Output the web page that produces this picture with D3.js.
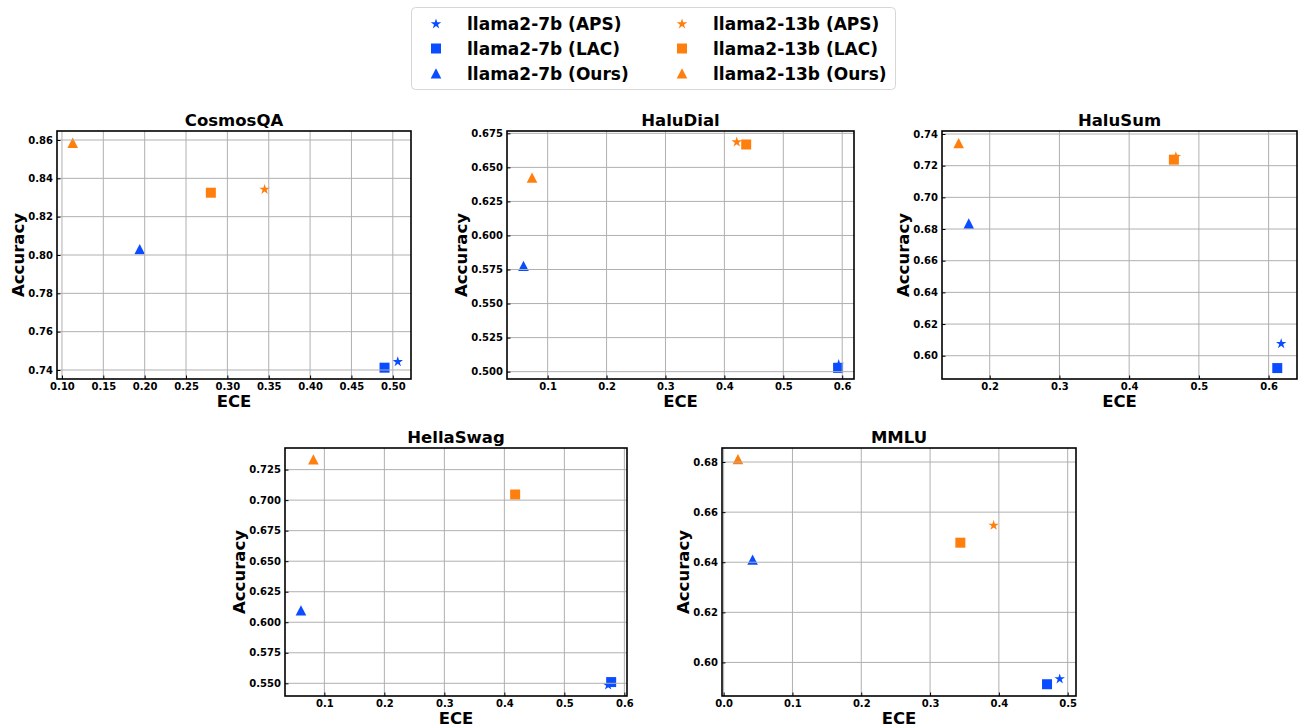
<!DOCTYPE html>
<html>
<head>
<meta charset="utf-8">
<script src="https://cdn.jsdelivr.net/npm/d3@7"></script>
<style>
  body { margin: 0; background: #fff; }
  svg { font-family: "DejaVu Sans", sans-serif; }
</style>
</head>
<body>
<svg id="chart" width="1299" height="728"></svg>
<script>
// series order: 7b APS, 7b LAC, 7b Ours, 13b APS, 13b LAC, 13b Ours
var seriesNames = ["llama2-7b (APS)", "llama2-7b (LAC)", "llama2-7b (Ours)",
                   "llama2-13b (APS)", "llama2-13b (LAC)", "llama2-13b (Ours)"];
var seriesShape = ["star", "square", "triangle", "star", "square", "triangle"];
var seriesColor = ["#0a4cff", "#0a4cff", "#0a4cff", "#ff7f0e", "#ff7f0e", "#ff7f0e"];

var datasets = ["CosmosQA", "HaluDial", "HaluSum", "HellaSwag", "MMLU"];

var cosmosECE = [0.506, 0.490, 0.194, 0.345, 0.280, 0.113];
var cosmosAcc = [0.7443, 0.7412, 0.8030, 0.8342, 0.8325, 0.8585];
var dialECE   = [0.594, 0.593, 0.059, 0.421, 0.437, 0.0735];
var dialAcc   = [0.5052, 0.5027, 0.5775, 0.6686, 0.6668, 0.6424];
var sumECE    = [0.618, 0.6124, 0.170, 0.467, 0.4641, 0.1555];
var sumAcc    = [0.6076, 0.5922, 0.6834, 0.7257, 0.7238, 0.7341];
var hellaECE  = [0.573, 0.578, 0.061, 0.418, 0.418, 0.0817];
var hellaAcc  = [0.5485, 0.5510, 0.6096, 0.7046, 0.7046, 0.7332];
var mmluECE   = [0.4884, 0.470, 0.0421, 0.3924, 0.344, 0.0208];
var mmluAcc   = [0.5934, 0.5913, 0.6410, 0.6547, 0.6478, 0.6811];

var xLimits = [[0.094, 0.522], [0.031, 0.620], [0.1316, 0.6407], [0.0344, 0.6044], [-0.0024, 0.5121]];
var yLimits = [[0.7353, 0.8647], [0.4946, 0.6767], [0.5853, 0.7419], [0.5396, 0.7427], [0.5866, 0.6856]];
var xTicks = [[0.10, 0.15, 0.20, 0.25, 0.30, 0.35, 0.40, 0.45, 0.50],
              [0.1, 0.2, 0.3, 0.4, 0.5, 0.6],
              [0.2, 0.3, 0.4, 0.5, 0.6],
              [0.1, 0.2, 0.3, 0.4, 0.5, 0.6],
              [0.0, 0.1, 0.2, 0.3, 0.4, 0.5]];
var yTicks = [[0.74, 0.76, 0.78, 0.80, 0.82, 0.84, 0.86],
              [0.500, 0.525, 0.550, 0.575, 0.600, 0.625, 0.650, 0.675],
              [0.60, 0.62, 0.64, 0.66, 0.68, 0.70, 0.72, 0.74],
              [0.550, 0.575, 0.600, 0.625, 0.650, 0.675, 0.700, 0.725],
              [0.60, 0.62, 0.64, 0.66, 0.68]];
var xFormat = [".2f", ".1f", ".1f", ".1f", ".1f"];
var yFormat = [".2f", ".3f", ".2f", ".3f", ".2f"];

var eceData = [cosmosECE, dialECE, sumECE, hellaECE, mmluECE];
var accData = [cosmosAcc, dialAcc, sumAcc, hellaAcc, mmluAcc];

// panel boxes in pixels: left, top, right, bottom
var panels = [
  {l: 57, t: 131, r: 411, b: 379},
  {l: 507, t: 131, r: 854, b: 379},
  {l: 942, t: 131, r: 1297, b: 379},
  {l: 285, t: 448, r: 627, b: 696},
  {l: 722, t: 448, r: 1076, b: 696}
];

var svg = d3.select("#chart");

function markerPath(shape) {
  if (shape == "square") {
    return "M-5,-5L5,-5L5,5L-5,5Z";
  } else if (shape == "triangle") {
    return "M0,-5.3L5.3,5L-5.3,5Z";
  } else {
    var R = 5.5, r = R * 0.382, p = [];
    for (var k = 0; k < 10; k++) {
      var rad = (k % 2 == 0) ? R : r;
      var a = -Math.PI / 2 + k * Math.PI / 5;
      p.push([rad * Math.cos(a), rad * Math.sin(a)]);
    }
    return "M" + p.map(function(q){ return q[0].toFixed(2) + "," + q[1].toFixed(2); }).join("L") + "Z";
  }
}

datasets.forEach(function(name, i) {
  var box = panels[i];
  var x = d3.scaleLinear().domain(xLimits[i]).range([box.l, box.r]);
  var y = d3.scaleLinear().domain(yLimits[i]).range([box.b, box.t]);
  var g = svg.append("g");

  var pts = seriesNames.map(function(s, j) {
    return {ece: eceData[i][j], acc: accData[i][j], shape: seriesShape[j], color: seriesColor[j]};
  });

  // markers (drawn under the grid, like matplotlib scatter)
  g.append("g").selectAll("path")
    .data(pts)
    .enter()
    .append("path")
    .attr("d", function(d){ return markerPath(d.shape); })
    .attr("transform", function(d){ return "translate(" + x(d.ece) + "," + y(d.acc) + ")"; })
    .attr("fill", function(d){ return d.color; });

  // grid
  g.append("g").selectAll("line.gx")
    .data(xTicks[i])
    .enter()
    .append("line")
    .attr("x1", function(d){ return x(d); }).attr("x2", function(d){ return x(d); })
    .attr("y1", box.t).attr("y2", box.b)
    .attr("stroke", "#b0b0b0").attr("stroke-width", 1);
  g.append("g").selectAll("line.gy")
    .data(yTicks[i])
    .enter()
    .append("line")
    .attr("y1", function(d){ return y(d); }).attr("y2", function(d){ return y(d); })
    .attr("x1", box.l).attr("x2", box.r)
    .attr("stroke", "#b0b0b0").attr("stroke-width", 1);

  // axes with inward ticks
  var xAxis = d3.axisBottom(x).tickValues(xTicks[i]).tickFormat(d3.format(xFormat[i]))
    .tickSizeInner(-3.5).tickSizeOuter(0).tickPadding(4);
  var yAxis = d3.axisLeft(y).tickValues(yTicks[i]).tickFormat(d3.format(yFormat[i]))
    .tickSizeInner(-3.5).tickSizeOuter(0).tickPadding(4);

  var gx = g.append("g").attr("transform", "translate(0," + box.b + ")").call(xAxis);
  var gy = g.append("g").attr("transform", "translate(" + box.l + ",0)").call(yAxis);
  [gx, gy].forEach(function(a) {
    a.select(".domain").remove();
    a.selectAll("text").attr("font-size", 10).attr("font-weight", "bold").attr("fill", "#000")
      .attr("font-family", "DejaVu Sans");
    a.selectAll("line").attr("stroke", "#000");
  });

  // frame
  g.append("rect")
    .attr("x", box.l).attr("y", box.t)
    .attr("width", box.r - box.l).attr("height", box.b - box.t)
    .attr("fill", "none").attr("stroke", "#000").attr("stroke-width", 1.6);

  // title and labels
  g.append("text")
    .attr("x", (box.l + box.r) / 2).attr("y", box.t - 5)
    .attr("text-anchor", "middle").attr("font-size", 16.5).attr("font-weight", "bold")
    .text(name);
  g.append("text")
    .attr("x", (box.l + box.r) / 2).attr("y", box.b + 28)
    .attr("text-anchor", "middle").attr("font-size", 16.5).attr("font-weight", "bold")
    .text("ECE");

  var maxW = 0;
  gy.selectAll("text").each(function(){ maxW = Math.max(maxW, this.getBBox().width); });
  var lx = box.l - 4 - maxW - 4;
  g.append("text")
    .attr("transform", "translate(" + lx + "," + ((box.t + box.b) / 2) + ") rotate(-90)")
    .attr("text-anchor", "middle").attr("font-size", 16.5).attr("font-weight", "bold")
    .text("Accuracy");
});

// legend
var legend = svg.append("g");
legend.append("rect")
  .attr("x", 411.5).attr("y", 7.5).attr("width", 484).attr("height", 82)
  .attr("rx", 4).attr("fill", "#fff").attr("stroke", "#d6d6d6").attr("stroke-width", 1);

var legendCols = [436, 682];
var legendRows = [24, 48.5, 73.5];
var items = legend.selectAll("g.item")
  .data(seriesNames)
  .enter()
  .append("g")
  .attr("transform", function(d, i){
    return "translate(" + legendCols[Math.floor(i / 3)] + "," + legendRows[i % 3] + ")";
  });
items.append("path")
  .attr("d", function(d, i){ return markerPath(seriesShape[i]); })
  .attr("fill", function(d, i){ return seriesColor[i]; });
items.append("text")
  .attr("x", 31).attr("y", 6)
  .attr("font-size", 17).attr("font-weight", "bold")
  .text(function(d){ return d; });
</script>
</body>
</html>
